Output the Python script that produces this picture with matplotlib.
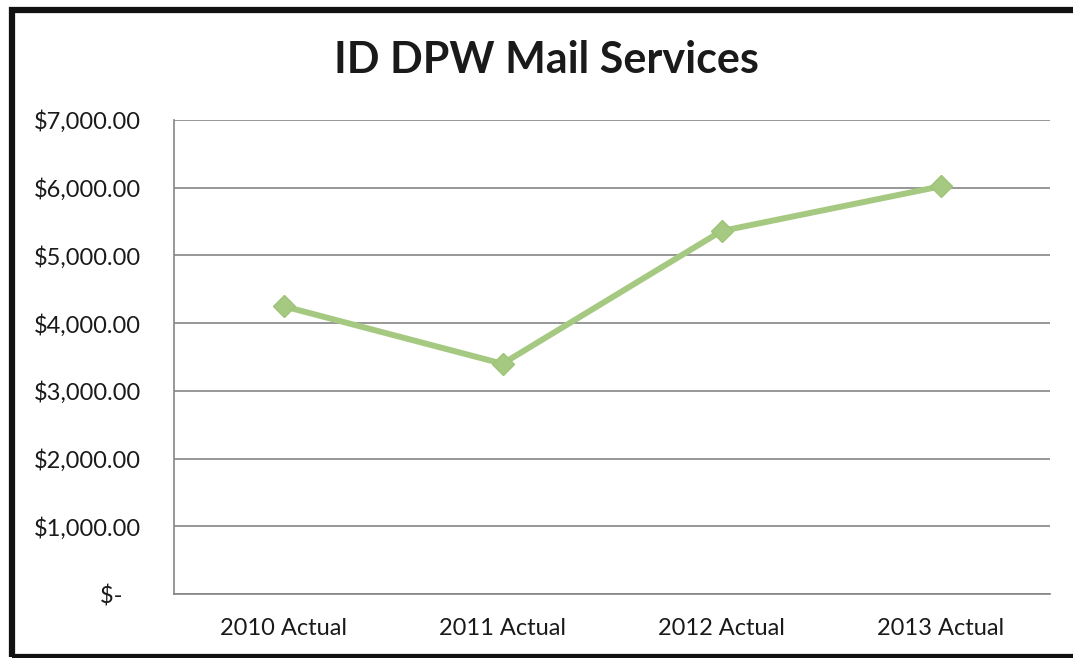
import matplotlib.pyplot as plt
from matplotlib.patches import Rectangle
from matplotlib.ticker import FuncFormatter

years = ["2010 Actual", "2011 Actual", "2012 Actual", "2013 Actual"]
costs = [4250, 3400, 5360, 6020]
y_ticks = [0, 1000, 2000, 3000, 4000, 5000, 6000, 7000]

plt.rcParams["font.family"] = ["Lato", "DejaVu Sans"]


def dollars(v, pos):
    if v == 0:
        return "$-   "
    return "${:,.2f}".format(v)


fig = plt.figure(figsize=(10.73, 6.58), dpi=100)
ax = fig.add_axes([174 / 1073, 1 - 594 / 658, 876 / 1073, 474 / 658])

x = list(range(len(years)))
ax.plot(x, costs, color="#a5c981", lw=4.3, marker="D", ms=11.5,
        markerfacecolor="#a5c981", markeredgecolor="#9dc377", zorder=3)

ax.set_xlim(-0.5, len(years) - 0.5)
ax.set_ylim(0, 7000)
ax.set_xticks(x, years)
ax.set_yticks(y_ticks)
ax.yaxis.set_major_formatter(FuncFormatter(dollars))
ax.tick_params(axis="both", length=0, labelsize=17, colors="#1a1a1a")
ax.tick_params(axis="y", pad=24)
ax.tick_params(axis="x", pad=17)

ax.grid(axis="y", color="#858585", lw=1.2)
ax.set_axisbelow(True)
for side in ["top", "right"]:
    ax.spines[side].set_visible(False)
for side in ["left", "bottom"]:
    ax.spines[side].set_color("#858585")
    ax.spines[side].set_linewidth(1.2)

fig.text(546 / 1073, 1 - 60 / 658, "ID DPW Mail Services", ha="center",
         va="center", fontsize=31, fontweight="bold", color="#1a1a1a")

# outer chart frame
fig.patches.append(Rectangle((12 / 1073, 1.5 / 658), 1.2, 1 - 11.5 / 658,
                             transform=fig.transFigure, fill=False,
                             edgecolor="#111111", lw=4.5))

fig.savefig("out.png", dpi=100)
